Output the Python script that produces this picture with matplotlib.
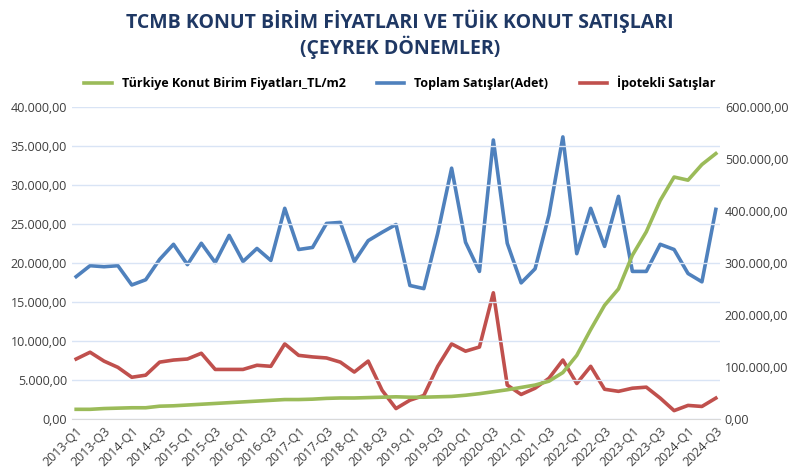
import numpy as np
import matplotlib
matplotlib.use("Agg")
import matplotlib.pyplot as plt
from matplotlib.ticker import FuncFormatter

plt.rcParams["font.family"] = "Open Sans"

quarters = [f"{y}-Q{q}" for y in range(2013, 2025) for q in range(1, 5)][:47]

unit_price = [1300, 1300, 1400, 1450, 1500, 1500, 1700, 1750, 1850, 1950, 2050, 2150,
              2250, 2350, 2450, 2550, 2550, 2600, 2700, 2750, 2750, 2800, 2850, 2900,
              2850, 2850, 2900, 2950, 3100, 3300, 3550, 3800, 4100, 4400, 4900, 6000,
              8200, 11500, 14600, 16700, 21000, 24000, 28000, 31000, 30600, 32600, 34000]
total_sales = [274, 295, 293, 295, 258, 268, 307, 336, 297, 338, 301, 353,
               303, 328, 305, 405, 326, 330, 376, 378, 303, 343, 359, 374,
               257, 251, 357, 482, 340, 284, 536, 338, 262, 289, 392, 542,
               318, 405, 332, 428, 284, 284, 336, 326, 280, 264, 403]
mortgage_sales = [116, 129, 112, 100, 81, 85, 110, 114, 116, 127, 96, 96,
                  96, 104, 102, 145, 123, 120, 118, 110, 91, 112, 56, 21,
                  37, 46, 102, 145, 131, 139, 243, 66, 48, 60, 79, 114,
                  69, 102, 58, 54, 60, 62, 41, 17, 27, 25, 41]
total_sales = [v * 1000 for v in total_sales]
mortgage_sales = [v * 1000 for v in mortgage_sales]

def tr_fmt(v, _):
    s = f"{v:,.2f}"
    return s.replace(",", "X").replace(".", ",").replace("X", ".")

x = np.arange(len(quarters))
fig = plt.figure(figsize=(8, 4.74), dpi=100)
ax = fig.add_axes([0.09, 0.115, 0.81, 0.66])
ax2 = ax.twinx()

l1, = ax.plot(x, unit_price, color="#9BBB59", lw=2.6, label="Türkiye Konut Birim Fiyatları_TL/m2")
l2, = ax2.plot(x, total_sales, color="#4F81BD", lw=2.6, label="Toplam Satışlar(Adet)")
l3, = ax2.plot(x, mortgage_sales, color="#C0504D", lw=2.6, label="İpotekli Satışlar")
ax.set_zorder(ax2.get_zorder() + 1)
ax.patch.set_visible(False)

ax.set_ylim(0, 40000)
ax.set_yticks(np.arange(0, 40001, 5000))
ax2.set_ylim(0, 600000)
ax2.set_yticks(np.arange(0, 600001, 100000))
ax.yaxis.set_major_formatter(FuncFormatter(tr_fmt))
ax2.yaxis.set_major_formatter(FuncFormatter(tr_fmt))
ax.set_xlim(-0.3, len(quarters) - 0.7)
ax.set_xticks(x[::2])
ax.set_xticklabels(quarters[::2], rotation=45, ha="right", rotation_mode="anchor")
ax.grid(axis="y", color="#D9E4F5", lw=1)
for a in (ax, ax2):
    for s in a.spines.values():
        s.set_visible(False)
    a.tick_params(length=0, labelsize=9, colors="#404040")
ax.spines["bottom"].set_visible(True)
ax.spines["bottom"].set_color("#D9D9D9")

fig.text(0.5, 0.955, "TCMB KONUT BİRİM FİYATLARI VE TÜİK KONUT SATIŞLARI",
         ha="center", va="center", fontsize=14, fontweight="bold", color="#1F3864")
fig.text(0.5, 0.9, "(ÇEYREK DÖNEMLER)",
         ha="center", va="center", fontsize=14, fontweight="bold", color="#1F3864")
fig.legend(handles=[l1, l2, l3], loc="center", bbox_to_anchor=(0.5, 0.825), ncol=3,
           frameon=False, handlelength=2.2, columnspacing=2.5,
           prop={"weight": "bold", "size": 9})

fig.savefig("out.png", dpi=100)
